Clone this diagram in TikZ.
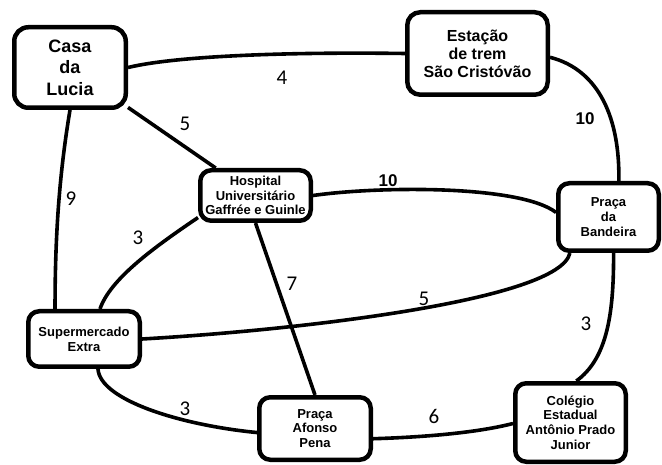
\documentclass[tikz,border=0pt]{standalone}
\usepackage{fontspec}
\setmainfont{Liberation Sans}
\newfontfamily\digitfont{Carlito}
\begin{document}
\begin{tikzpicture}[x=1pt,y=-1pt,
  box/.style={draw, line width=4.5pt, rounded corners=11pt, align=center,
    font=\bfseries\fontsize{13}{14.8}\selectfont, inner sep=0pt},
  edge/.style={line width=3.6pt},
  wlab/.style={font=\digitfont\fontsize{21}{21}\selectfont, inner sep=0pt},
  blab/.style={font=\bfseries\fontsize{17}{17}\selectfont, inner sep=0pt}]
\useasboundingbox (0,0) rectangle (662,465);

\node[box, rounded corners=14pt, minimum width=111.5pt, minimum height=80.5pt,
  font=\bfseries\fontsize{18}{21.5}\selectfont] (casa) at (70,67.5) {Casa\\da\\Lucia};
\node[box, rounded corners=13pt, minimum width=140.5pt, minimum height=82.5pt,
  font=\bfseries\fontsize{16}{18}\selectfont] (est) at (477.5,53.5) {Estação\\de trem\\São Cristóvão};
\node[box, minimum width=110.5pt, minimum height=50.5pt] (hosp) at (255.5,195.5) {Hospital\\Universitário\\Gaffrée e Guinle};
\node[box, minimum width=100.5pt, minimum height=67.5pt] (band) at (608.5,217) {Praça\\da\\Bandeira};
\node[box, minimum width=111.5pt, minimum height=55.5pt] (super) at (84,339) {Supermercado\\Extra};
\node[box, minimum width=111.5pt, minimum height=62.5pt] (afonso) at (315,428.5) {Praça\\Afonso\\Pena};
\node[box, minimum width=110.5pt, minimum height=78.5pt] (col) at (570.5,422.5) {Colégio\\Estadual\\Antônio Prado\\Junior};

\draw[edge] (casa.east) .. controls (180,55) and (300,52) .. (est.west);
\draw[edge] (casa) -- (hosp);
\draw[edge] (casa.south) .. controls (60,170) and (55,230) .. (super.134);
\draw[edge] (est.-3) .. controls (600,70) and (620,120) .. (band.74);
\draw[edge] (hosp.east) .. controls (380,186) and (520,185) .. (band.175);
\draw[edge] (hosp.201) .. controls (150,250) and (110,280) .. (super.62);
\draw[edge] (hosp.south) -- (afonso.north);
\draw[edge] (super.east) .. controls (300,330) and (560,300) .. (band.223);
\draw[edge] (band.-82) .. controls (614,320) and (605,360) .. (col.82);
\draw[edge] (super.-65) .. controls (100,400) and (180,425) .. (afonso.184);
\draw[edge] (afonso.-10) .. controls (430,437) and (480,432) .. (col.181);

\node[wlab] (l1) at (282,78) {4};
\node[wlab] (l2) at (185,124) {5};
\node[wlab] (l3) at (71,199) {9};
\node[blab] (l4) at (585,119) {10};
\node[blab] (l5) at (388,181) {10};
\node[wlab] (l6) at (138,238) {3};
\node[wlab] (l7) at (292,284) {7};
\node[wlab] (l8) at (424,299) {5};
\node[wlab] (l9) at (586,324) {3};
\node[wlab] (l10) at (185,409) {3};
\node[wlab] (l11) at (434,416) {6};
\end{tikzpicture}
\end{document}
